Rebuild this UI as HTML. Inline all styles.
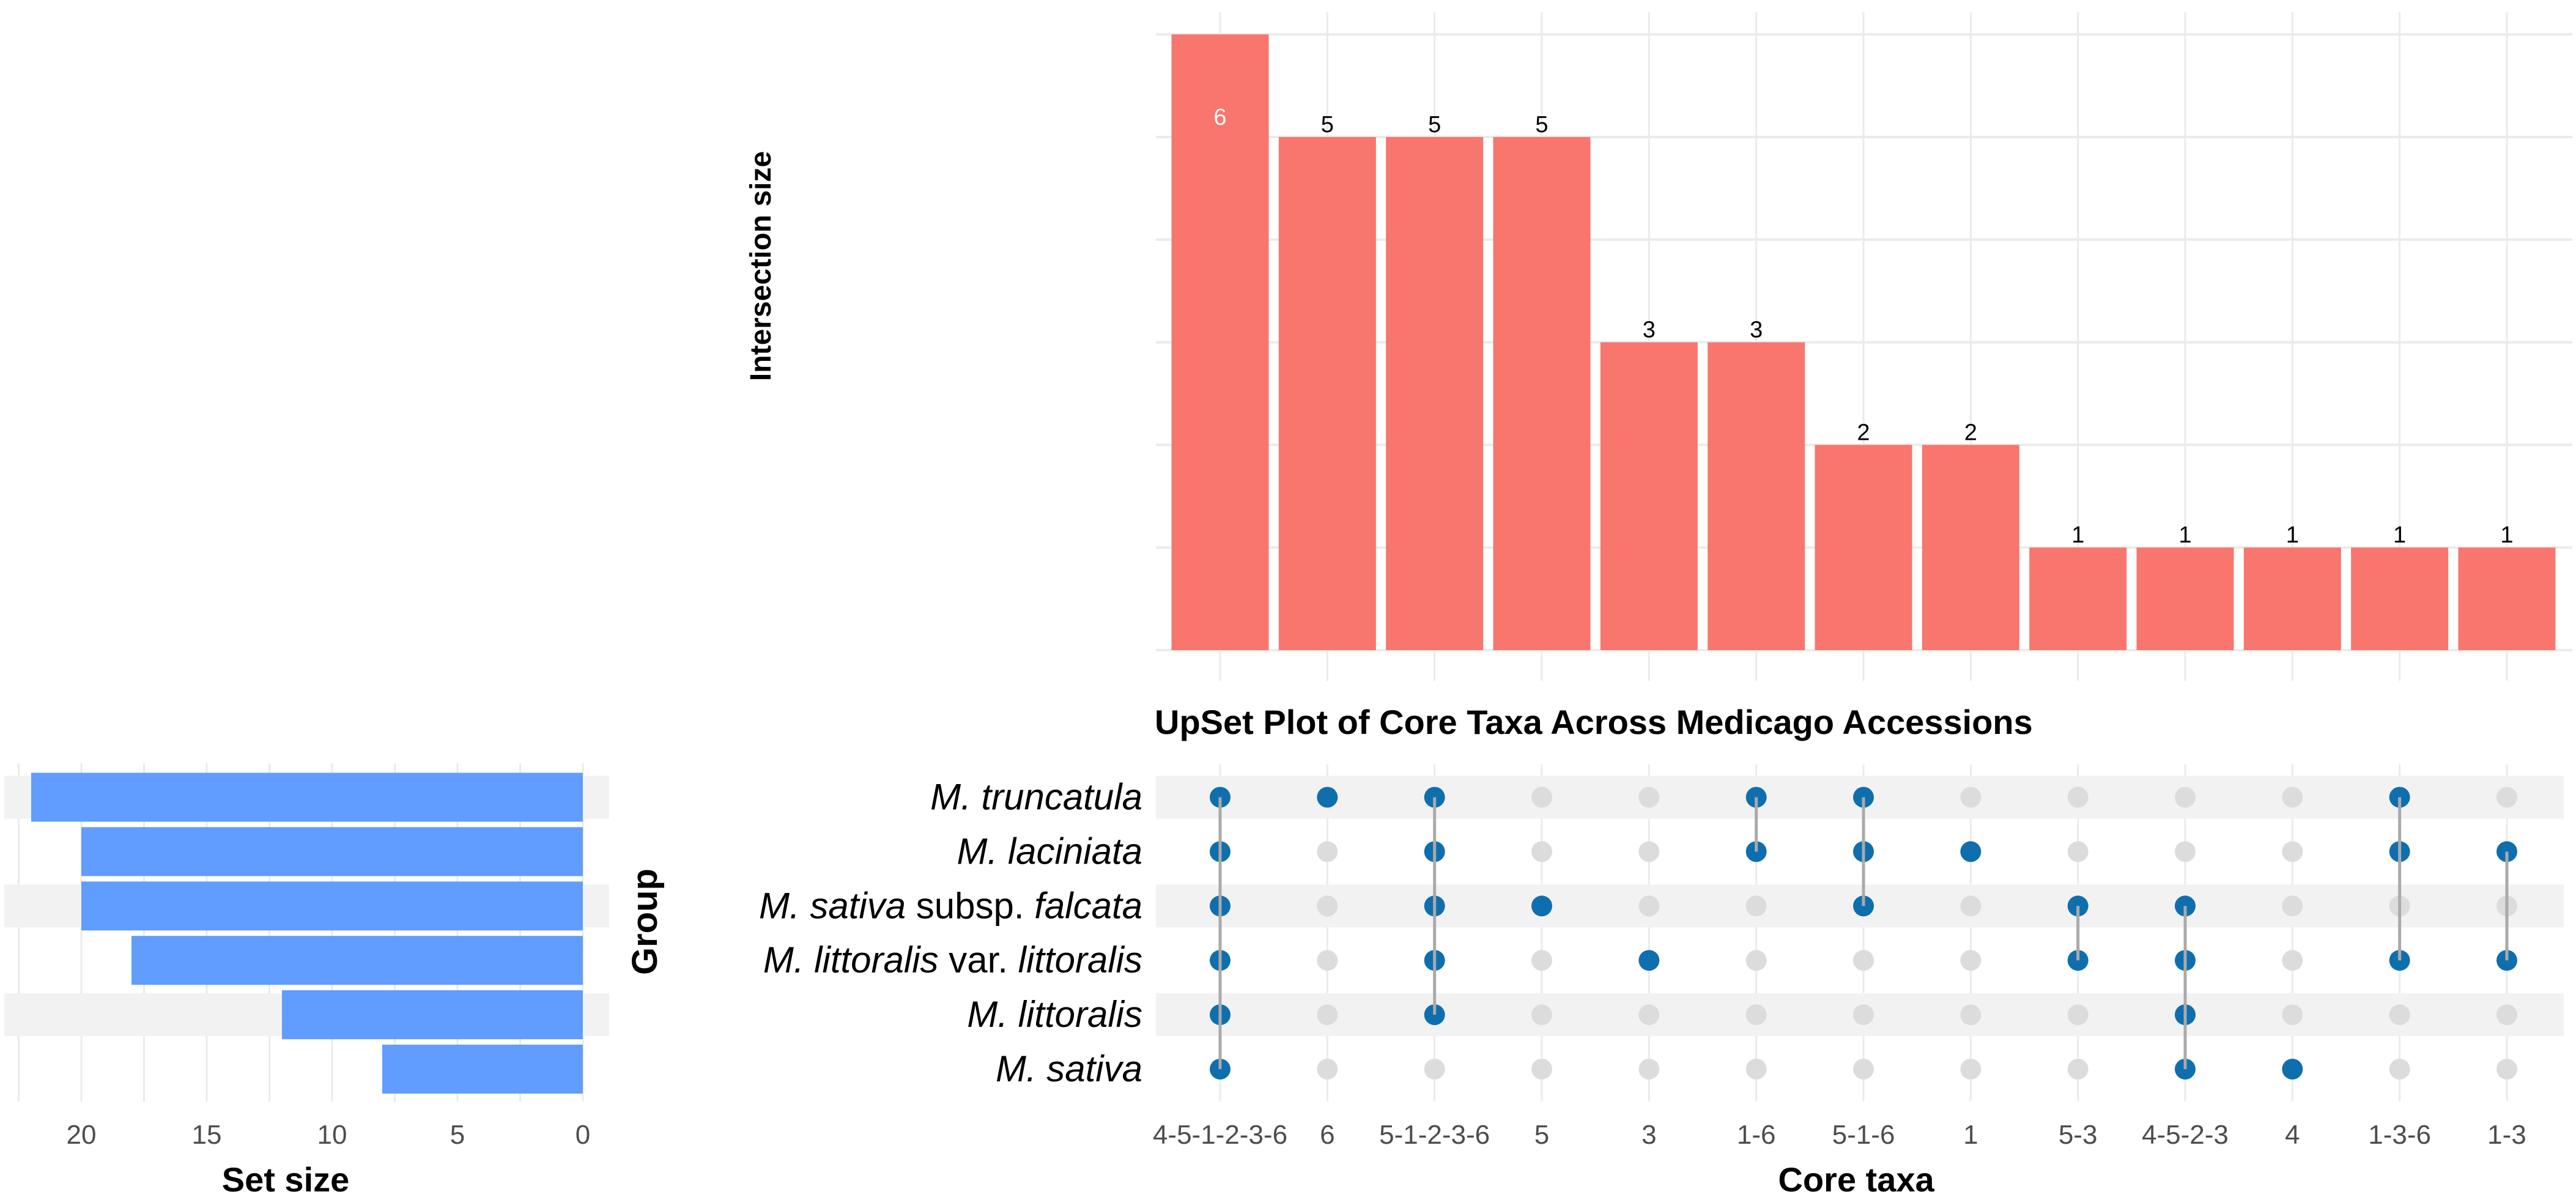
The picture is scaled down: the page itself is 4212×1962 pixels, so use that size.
<!DOCTYPE html>
<html><head><meta charset="utf-8"><style>
html,body{margin:0;padding:0;background:#fff;}
svg{display:block;font-family:"Liberation Sans",Arial,sans-serif;}
</style></head><body>
<svg id="chart" width="4212" height="1962" viewBox="0 0 4212 1962" xmlns="http://www.w3.org/2000/svg"></svg>
<script>
const combos = ["4-5-1-2-3-6","6","5-1-2-3-6","5","3","1-6","5-1-6","1","5-3","4-5-2-3","4","1-3-6","1-3"];
const interValues = [6,5,5,5,3,3,2,2,1,1,1,1,1];
const sets = ["M. truncatula","M. laciniata","M. sativa subsp. falcata","M. littoralis var. littoralis","M. littoralis","M. sativa"];
const setSizes = [22,20,20,18,12,8];
const membership = [[0,1,2,3,4,5],[0],[0,1,2,3,4],[2],[3],[0,1],[0,1,2],[1],[2,3],[2,3,4,5],[5],[0,1,3],[1,3]];
const setTicks = [20,15,10,5,0];

const NS="http://www.w3.org/2000/svg";
const svg=document.getElementById('chart');
function el(tag,attrs,parent){const e=document.createElementNS(NS,tag);for(const k in attrs)e.setAttribute(k,attrs[k]);(parent||svg).appendChild(e);return e;}

const colX=i=>1995+i*175.33;
const interY=v=>1063-v*167.8;
const rowY=r=>1303.5+r*88.9;
const setX=v=>953-v*41;

for(let v=0;v<=6;v++){const g=el('line',{x1:1890,x2:4206,y1:interY(v),y2:interY(v),stroke:'#ebebeb','stroke-width':4});
}
combos.forEach((c,i)=>{const g=el('line',{x1:colX(i),x2:colX(i),y1:20,y2:1113,stroke:'#ebebeb','stroke-width':3});
});
interValues.forEach((v,i)=>{
 const b=el('rect',{x:colX(i)-79.5,y:interY(v),width:159,height:interY(0)-interY(v),fill:'#F8766D'});
 
 
 const inside=(i===0);
 const t=el('text',{x:colX(i),y:inside?interY(v)+148:interY(v)-8,'text-anchor':'middle','font-size':38,fill:inside?'#fff':'#000'});
 t.textContent=v;
 
 
});
const yt=el('text',{x:0,y:0,'font-size':48,'font-weight':'bold','text-anchor':'middle',transform:'translate(1260,435) rotate(-90)'});
yt.textContent='Intersection size';


const tt=el('text',{x:1888,y:1200,'font-size':56,'font-weight':'bold'});
tt.textContent='UpSet Plot of Core Taxa Across Medicago Accessions';


for(let v=0;v<=22.5;v+=2.5){const g=el('line',{x1:setX(v),x2:setX(v),y1:1248,y2:1801,stroke:'#ebebeb','stroke-width':3});
}
combos.forEach((c,i)=>{const g=el('line',{x1:colX(i),x2:colX(i),y1:1250,y2:1800,stroke:'#ebebeb','stroke-width':3});
});
[0,2,4].forEach(r=>{
 const s1=el('rect',{x:7,y:rowY(r)-35,width:989,height:70,fill:'#f2f2f2'});
 
 const s2=el('rect',{x:1890,y:rowY(r)-35,width:2302,height:70,fill:'#f2f2f2'});
 
});
setSizes.forEach((v,r)=>{
 const b=el('rect',{x:setX(v),y:rowY(r)-40,width:setX(0)-setX(v),height:80,fill:'#619CFF'});
 
 
});
setTicks.forEach(v=>{const t=el('text',{x:setX(v),y:1870,'text-anchor':'middle','font-size':44,fill:'#4d4d4d'});t.textContent=v;
});
const sx=el('text',{x:467,y:1948,'text-anchor':'middle','font-size':56,'font-weight':'bold'});sx.textContent='Set size';

const gp=el('text',{x:0,y:0,'font-size':58,'font-weight':'bold','text-anchor':'middle',transform:'translate(1074,1507) rotate(-90)'});gp.textContent='Group';


const labelParts=[[['M. truncatula',1]],[['M. laciniata',1]],[['M. sativa',1],[' subsp. ',0],['falcata',1]],[['M. littoralis',1],[' var. ',0],['littoralis',1]],[['M. littoralis',1]],[['M. sativa',1]]];
sets.forEach((s,r)=>{
 const t=el('text',{x:1868,y:rowY(r)+20,'text-anchor':'end','font-size':60});
 labelParts[r].forEach(p=>{const ts=el('tspan',{'font-style':p[1]?'italic':'normal'},t);ts.textContent=p[0];});
 
 
});

combos.forEach((c,i)=>{
 for(let r=0;r<sets.length;r++){
  if(membership[i].includes(r))continue;
  const d=el('circle',{cx:colX(i),cy:rowY(r),r:17,fill:'#dcdcdc'});
  
  
 }
 const m=membership[i];
 m.forEach(r=>{
  const d=el('circle',{cx:colX(i),cy:rowY(r),r:17,fill:'#0f6fae'});
  
  
 });
 if(m.length>1){
  const ln2=el('line',{x1:colX(i),x2:colX(i),y1:rowY(Math.min(...m)),y2:rowY(Math.max(...m)),stroke:'#aaaaaa','stroke-width':5});
  
  
 }
 const t=el('text',{x:colX(i),y:1870,'text-anchor':'middle','font-size':44,fill:'#4d4d4d'});
 t.textContent=c;
 
 
});
const xt=el('text',{x:3035,y:1948,'text-anchor':'middle','font-size':56,'font-weight':'bold'});xt.textContent='Core taxa';

</script>
</body></html>
